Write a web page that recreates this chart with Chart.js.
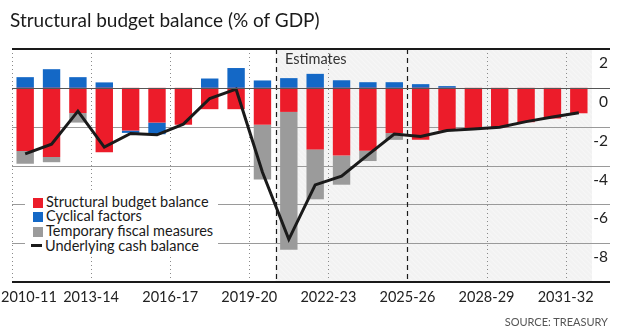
<!DOCTYPE html>
<html>
<head>
<meta charset="utf-8">
<script src="https://cdn.jsdelivr.net/npm/chart.js@4"></script>
<style>
  body{margin:0;background:#fff;}
  #wrap{position:relative;width:620px;height:336px;overflow:hidden;font-family:Lato,sans-serif;}
  #myChart{position:absolute;left:0;top:0;}
  #title{position:absolute;left:10px;top:8px;font-size:19px;color:#1a1a1a;white-space:nowrap;}
  #source{position:absolute;right:12px;top:315px;font-size:11px;color:#555;white-space:nowrap;}
  #legend{position:absolute;left:25px;top:193px;width:193px;height:62px;background:#fff;}
  .item{position:absolute;left:8px;font-size:14.5px;color:#1a1a1a;line-height:16px;white-space:nowrap;}
  .box{display:inline-block;width:10px;height:10px;margin-right:3px;vertical-align:-1px;}
  .dash{display:inline-block;width:11px;height:3px;background:#1a1a1a;margin-right:3px;margin-left:-2px;vertical-align:4px;}
</style>
</head>
<body>
<div id="wrap">
  <canvas id="myChart" width="620" height="336"></canvas>
  <div id="title">Structural budget balance (% of GDP)</div>
  <div id="legend">
    <div class="item" style="top:1px"><span class="box" style="background:#ec1c2a"></span>Structural budget balance</div>
    <div class="item" style="top:15px"><span class="box" style="background:#1468c6"></span>Cyclical factors</div>
    <div class="item" style="top:30px"><span class="box" style="background:#9b9b9b"></span>Temporary fiscal measures</div>
    <div class="item" style="top:45px"><span class="dash"></span>Underlying cash balance</div>
  </div>
  <div id="source">SOURCE: TREASURY</div>
</div>
<script>
const years = ['2010-11','2011-12','2012-13','2013-14','2014-15','2015-16','2016-17','2017-18','2018-19','2019-20','2020-21',
    '2021-22','2022-23','2023-24','2024-25','2025-26','2026-27','2027-28','2028-29','2029-30','2030-31','2031-32'];
const structural = [-3.25,-3.56,-1.3,-3.32,-2.2,-1.79,-1.9,-1.1,-1.1,-1.9,-1.24,-3.17,-3.49,-3.24,-2.33,-2.68,-2.2,-2.1,-2.03,-1.77,-1.58,-1.31];
const cyclical = [0.55,0.96,0.55,0.28,-0.12,-0.6,0,0.48,1.02,0.38,0.5,0.72,0.39,0.29,0.29,0.19,0.09,0,0,0,0,0];
const temporary = [-0.66,-0.27,-0.49,0,0,0,0,0,0,-2.82,-7.1,-2.57,-1.5,-0.53,-0.35,0,0,0,0,0,0,0];
const underlying = [-3.4,-2.9,-1.2,-3.05,-2.35,-2.42,-1.87,-0.55,-0.07,-4.35,-7.8,-5.0,-4.55,-3.45,-2.38,-2.5,-2.2,-2.12,-2.03,-1.74,-1.5,-1.28];
const yTicks = [2,0,-2,-4,-6,-8];
const xTickIdx = [0,3,6,9,12,15,18,21];
const dottedIdx = [0,3,6,9,12,18,21];
const dashedIdx = [10,15];
const estimatesStart = 10;

const FONT = 'Lato, sans-serif';

function edge(x,i){
    const half=(x.getPixelForValue(1)-x.getPixelForValue(0))/2;
    return x.getPixelForValue(i)-half;
}

const decorPlugin = {
    id:'decor',
    beforeDatasetsDraw(chart){
        const {ctx, chartArea:a, scales:{x,y}} = chart;
        ctx.save();
        // estimates shading
        const sx = edge(x,estimatesStart);
        ctx.fillStyle='#f2f2f2';
        ctx.fillRect(sx,a.top,a.right-sx,a.bottom-a.top);
        ctx.beginPath();
        ctx.rect(sx,a.top,a.right-sx,a.bottom-a.top);
        ctx.clip();
        ctx.strokeStyle='rgba(255,255,255,0.55)';
        ctx.lineWidth=1;
        for(let k=-300;k<400;k+=5){
            ctx.beginPath();
            ctx.moveTo(sx+k,a.top);
            ctx.lineTo(sx+k+(a.bottom-a.top),a.bottom);
            ctx.stroke();
        }
        ctx.restore();
        ctx.save();
        // horizontal gridlines
        ctx.strokeStyle='#9a9a9a';
        ctx.lineWidth=1;
        yTicks.forEach(v=>{
            if(v===0||v===2) return;
            const py=Math.round(y.getPixelForValue(v))+0.5;
            ctx.beginPath();ctx.moveTo(a.left,py);ctx.lineTo(610,py);ctx.stroke();
        });
        // dotted verticals
        ctx.strokeStyle='#8a8a8a';
        ctx.setLineDash([1,3]);
        dottedIdx.forEach(i=>{
            const px=Math.round(edge(x,i))+0.5;
            ctx.beginPath();ctx.moveTo(px,a.top);ctx.lineTo(px,a.bottom);ctx.stroke();
        });
        ctx.strokeStyle='#1a1a1a';
        ctx.setLineDash([5,4]);
        ctx.lineWidth=1.2;
        dashedIdx.forEach(i=>{
            const px=Math.round(edge(x,i))+0.5;
            ctx.beginPath();ctx.moveTo(px,a.top);ctx.lineTo(px,a.bottom);ctx.stroke();
        });
        ctx.setLineDash([]);
        // estimates label
        ctx.fillStyle='#333';
        ctx.font='14.5px '+FONT;
        ctx.textBaseline='middle';
        ctx.fillText('Estimates',Math.round(edge(x,estimatesStart))+9,a.top+10);
        ctx.restore();
    },
    afterDatasetsDraw(chart){
        const {ctx, chartArea:a, scales:{x,y}} = chart;
        ctx.save();
        // zero line
        let py=Math.round(y.getPixelForValue(0))+0.5;
        ctx.strokeStyle='#555';ctx.lineWidth=1.2;
        ctx.beginPath();ctx.moveTo(a.left,py);ctx.lineTo(610,py);ctx.stroke();
        // top and bottom rules
        ctx.strokeStyle='#1a1a1a';ctx.lineWidth=2;
        py=Math.round(y.getPixelForValue(2));
        ctx.beginPath();ctx.moveTo(a.left,py);ctx.lineTo(610,py);ctx.stroke();
        py=Math.round(y.getPixelForValue(-10));
        ctx.beginPath();ctx.moveTo(a.left,py);ctx.lineTo(610,py);ctx.stroke();
        // y labels, sitting under the gridlines
        ctx.fillStyle='#222';
        ctx.font='15.5px '+FONT;
        ctx.textAlign='right';ctx.textBaseline='middle';
        yTicks.forEach(v=>{
            ctx.fillText(String(v),608,y.getPixelForValue(v)+14);
        });
        // x labels at year boundaries
        ctx.font='14.5px '+FONT;
        xTickIdx.forEach(i=>{
            const px=edge(x,i);
            const w=ctx.measureText(years[i]).width;
            ctx.textAlign='left';
            ctx.fillText(years[i],Math.max(1,px-w/2),a.bottom+15);
        });
        ctx.restore();
    }
};

const ctx = document.getElementById('myChart');
new Chart(ctx,{
    type:'bar',
    data:{
        labels:years,
        datasets:[
            {type:'line',label:'Underlying cash balance',data:underlying,borderColor:'#1a1a1a',borderWidth:3,
                pointRadius:0,tension:0,order:0,stack:'line'},
            {label:'Structural budget balance',data:structural,backgroundColor:'#ec1c2a',stack:'s',order:1},
            {label:'Cyclical factors',data:cyclical,backgroundColor:'#1468c6',stack:'s',order:1},
            {label:'Temporary fiscal measures',data:temporary,backgroundColor:'#9b9b9b',stack:'s',order:1}
        ]
    },
    options:{
        responsive:false,
        animation:false,
        layout:{padding:{left:12,right:28,top:49,bottom:54}},
        datasets:{bar:{categoryPercentage:1,barPercentage:0.66,borderWidth:0}},
        plugins:{legend:{display:false},tooltip:{enabled:false}},
        scales:{
            x:{display:false,stacked:true},
            y:{display:false,stacked:true,min:-10,max:2}
        }
    },
    plugins:[decorPlugin]
});
</script>
</body>
</html>
